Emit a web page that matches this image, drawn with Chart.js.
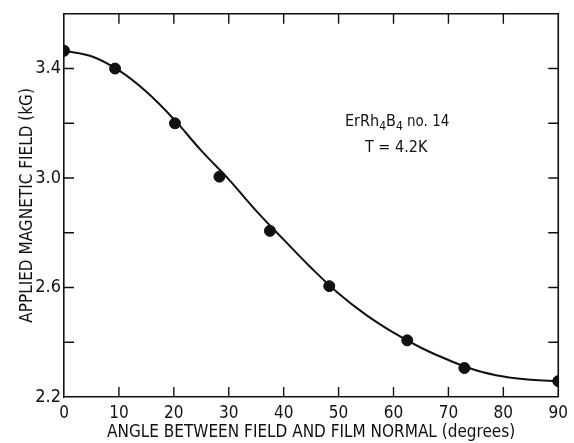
<!DOCTYPE html>
<html>
<head>
<meta charset="utf-8">
<script src="https://cdn.jsdelivr.net/npm/chart.js@4.4.1/dist/chart.umd.min.js"></script>
<style>
  html, body { margin: 0; padding: 0; background: #fff; }
  #wrap { width: 574px; height: 443px; }
</style>
</head>
<body>
<div id="wrap"><canvas id="chart"></canvas></div>
<script>
// measured points
const angles = [0, 9.3, 20.2, 28.3, 37.5, 48.3, 62.5, 72.9, 90];
const fields = [3.465, 3.40, 3.20, 3.005, 2.807, 2.605, 2.407, 2.306, 2.258];

// smooth fitted curve
const curveAngles = [0, 5, 10, 15, 20, 25, 30, 35, 40, 45, 50, 55, 60, 65, 70, 75, 80, 85, 90];
const curveFields = [3.465, 3.445, 3.393, 3.315, 3.215, 3.10, 2.995, 2.88, 2.775, 2.672, 2.578, 2.50, 2.435, 2.38, 2.335, 2.298, 2.275, 2.263, 2.258];

const xTicks = [0, 10, 20, 30, 40, 50, 60, 70, 80, 90];
const yTicks = [2.2, 2.4, 2.6, 2.8, 3.0, 3.2, 3.4, 3.6];
const yLabeled = [2.2, 2.6, 3.0, 3.4];

const FONT = '"DejaVu Sans Condensed", "Liberation Sans Narrow", sans-serif';
const INK = '#111';
Chart.defaults.font.family = FONT;
Chart.defaults.color = INK;

// frame on top/right and inward tick marks on all four sides
const frameTicks = {
    id: 'frameTicks',
    afterDatasetsDraw(chart) {
        const { ctx, chartArea: a, scales } = chart;
        const len = 10;
        ctx.save();
        ctx.strokeStyle = INK;
        ctx.lineWidth = 1.6;
        ctx.beginPath();
        ctx.moveTo(a.left, a.top);
        ctx.lineTo(a.right, a.top);
        ctx.lineTo(a.right, a.bottom);
        ctx.stroke();
        ctx.lineWidth = 1.4;
        xTicks.slice(1, -1).forEach(v => {
            const px = scales.x.getPixelForValue(v);
            ctx.beginPath();
            ctx.moveTo(px, a.bottom); ctx.lineTo(px, a.bottom - len);
            ctx.moveTo(px, a.top); ctx.lineTo(px, a.top + len);
            ctx.stroke();
        });
        yTicks.slice(1, -1).forEach(v => {
            const py = scales.y.getPixelForValue(v);
            ctx.beginPath();
            ctx.moveTo(a.left, py); ctx.lineTo(a.left + len, py);
            ctx.moveTo(a.right, py); ctx.lineTo(a.right - len, py);
            ctx.stroke();
        });
        ctx.restore();
    }
};

// sample label with subscripts
const sampleNote = {
    id: 'sampleNote',
    afterDraw(chart) {
        const { ctx } = chart;
        ctx.save();
        ctx.fillStyle = INK;
        ctx.textBaseline = 'alphabetic';
        let x = 345;
        const y = 126;
        const parts = [
            ['ErRh', 16, 0], ['4', 12, 4], ['B', 16, 0], ['4', 12, 4], [' no. 14', 15, 0]
        ];
        parts.forEach(([t, size, dy]) => {
            ctx.font = size + 'px ' + FONT;
            ctx.fillText(t, x, y + dy);
            x += ctx.measureText(t).width;
        });
        ctx.font = '16px ' + FONT;
        ctx.fillText('T = 4.2K', 365, 152);
        ctx.restore();
    }
};

new Chart(document.getElementById('chart'), {
    type: 'scatter',
    data: {
        datasets: [
            {
                type: 'line',
                data: curveAngles.map((a, i) => ({ x: a, y: curveFields[i] })),
                borderColor: INK,
                borderWidth: 2,
                pointRadius: 0,
                tension: 0.4,
                fill: false
            },
            {
                data: angles.map((a, i) => ({ x: a, y: fields[i] })),
                backgroundColor: INK,
                borderColor: INK,
                pointRadius: 5.5,
                pointHoverRadius: 5.5
            }
        ]
    },
    options: {
        responsive: true,
        maintainAspectRatio: false,
        animation: false,
        layout: { padding: { top: 11, right: 15, left: 0, bottom: 0 } },
        plugins: { legend: { display: false }, tooltip: { enabled: false } },
        scales: {
            x: {
                type: 'linear',
                min: 0,
                max: 90,
                afterFit: s => { s.height = 46; },
                afterBuildTicks: s => { s.ticks = xTicks.map(v => ({ value: v })); },
                grid: { display: false, drawTicks: false },
                border: { display: true, color: INK, width: 1.6 },
                ticks: { padding: 6, font: { size: 17 }, color: INK, maxRotation: 0 },
                title: {
                    display: true,
                    text: 'ANGLE BETWEEN FIELD AND FILM NORMAL (degrees)',
                    font: { size: 17 },
                    color: INK,
                    padding: { top: 0, bottom: 0 }
                }
            },
            y: {
                type: 'linear',
                min: 2.2,
                max: 3.6,
                afterFit: s => { s.width = 64; },
                afterBuildTicks: s => { s.ticks = yTicks.map(v => ({ value: v })); },
                grid: { display: false, drawTicks: false },
                border: { display: true, color: INK, width: 1.6 },
                ticks: {
                    padding: 3,
                    font: { size: 18 },
                    color: INK,
                    callback: v => yLabeled.some(t => Math.abs(t - v) < 1e-6) ? v.toFixed(1) : ''
                },
                title: {
                    display: true,
                    text: 'APPLIED MAGNETIC FIELD (kG)',
                    font: { size: 17 },
                    color: INK,
                    padding: { top: 17, bottom: 0 }
                }
            }
        }
    },
    plugins: [frameTicks, sampleNote]
});
</script>
</body>
</html>
